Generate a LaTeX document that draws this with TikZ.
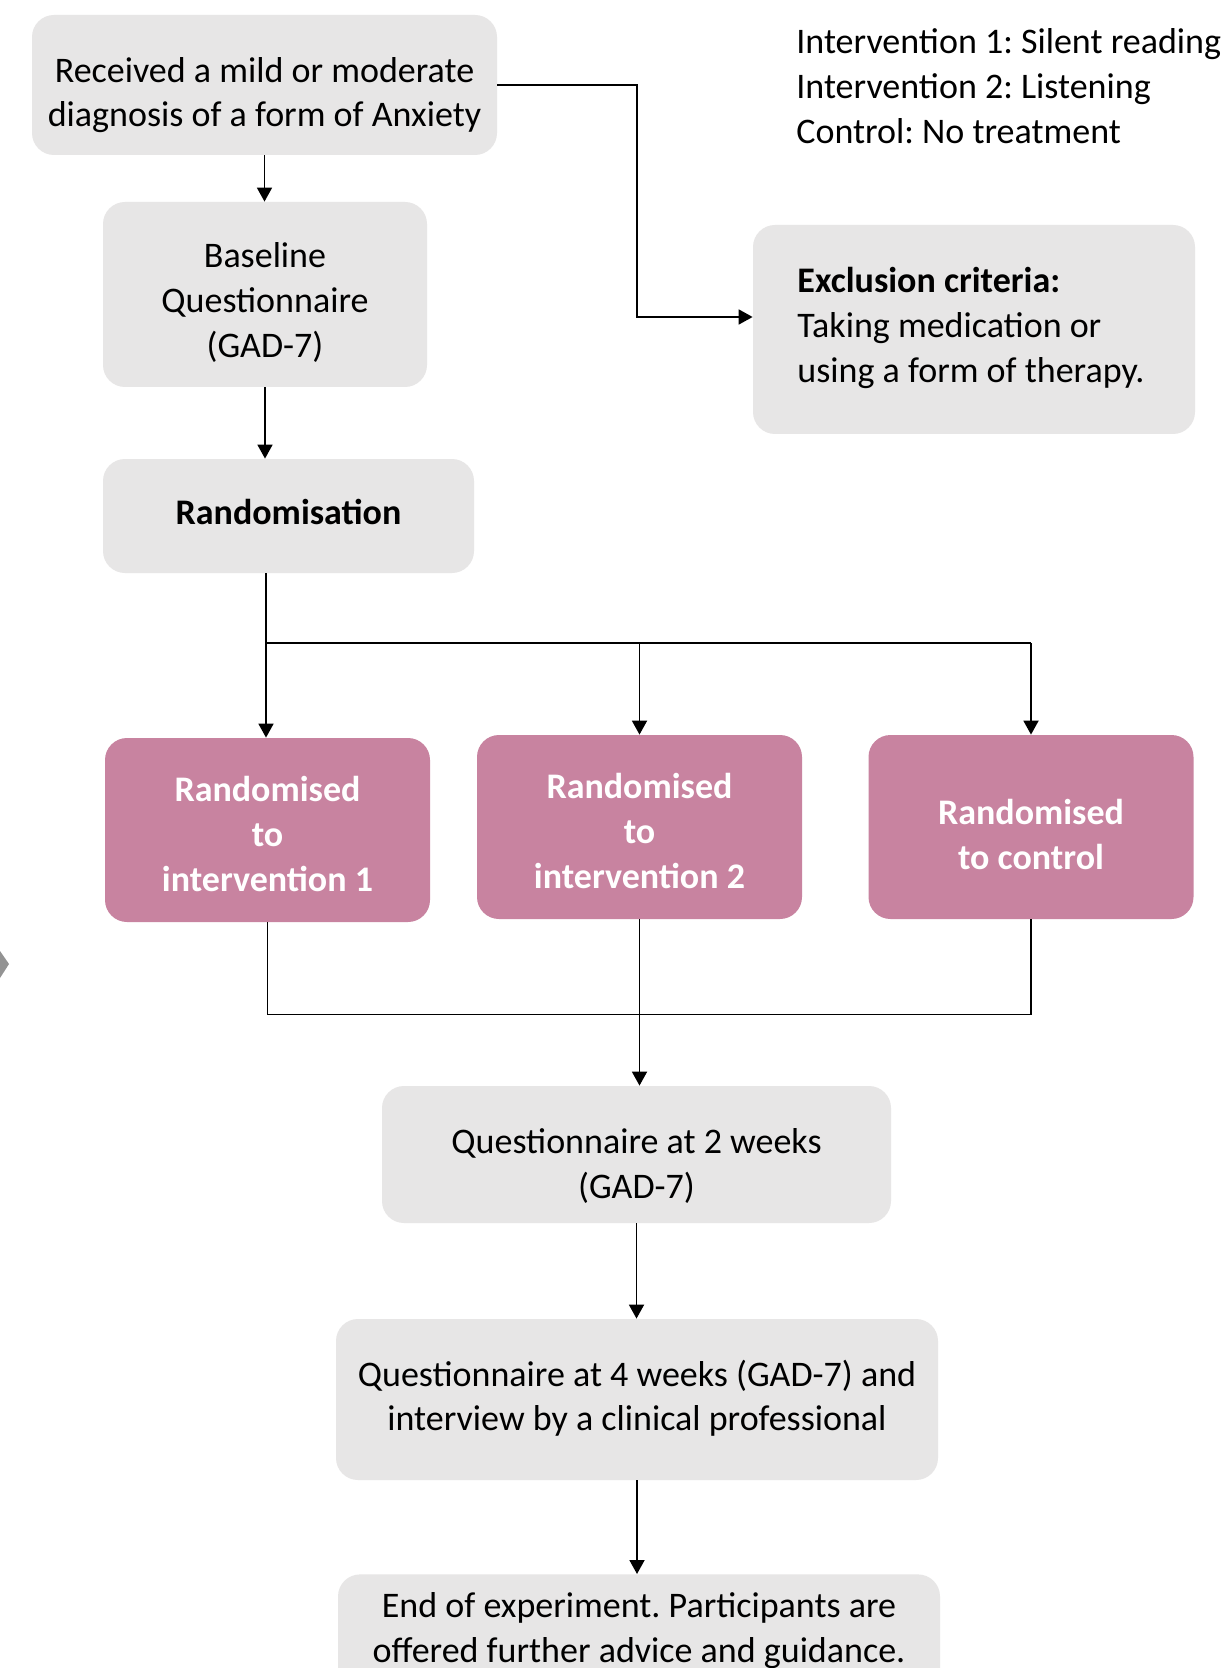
\documentclass[tikz,border=0pt]{standalone}
\usepackage{fontspec}
\setmainfont{Carlito}
\usetikzlibrary{arrows.meta,calc}
\definecolor{boxgray}{RGB}{231,230,230}
\definecolor{boxpink}{RGB}{200,131,160}
\def\PX{0.5pt}
\frenchspacing
% shift the visible text vertically without changing its measured size
\newcommand\boxtxt[3]{\raisebox{-#1}[\height][\depth]{\begin{tabular}{@{}#2@{}}#3\end{tabular}}}
\begin{document}
\begin{tikzpicture}[x=0.5pt,y=-0.5pt,
  base/.style={rectangle, rounded corners=11pt, inner sep=0pt, align=center,
               font=\fontsize{18}{22.4}\selectfont},
  gbox/.style={base, fill=boxgray, text=black},
  pbox/.style={base, fill=boxpink, text=white, font=\fontsize{18}{22.4}\selectfont\bfseries},
  arr/.style={draw=black, line width=0.9pt, -{Triangle[length=7pt,width=7.5pt]}},
  ln/.style={draw=black, line width=0.65pt}]
\path[use as bounding box] (0,0) rectangle (1225,1668);
\clip (0,0) rectangle (1225,1668);
\fill[white] (0,0) rectangle (1225,1668);

% legend
\node[base, anchor=west, align=left] (leg) at (796,86)
  {Intervention 1: Silent reading\\Intervention 2: Listening\\Control: No treatment};

% grey boxes
\node[gbox, minimum width=465*\PX, minimum height=140*\PX] (b1) at (264.5,85)
  {\boxtxt{5.3pt}{c}{Received a mild or moderate\\diagnosis of a form of Anxiety}};
\node[gbox, minimum width=324*\PX, minimum height=185*\PX] (b2) at (265,294.5)
  {\boxtxt{4.5pt}{c}{Baseline\\Questionnaire\\(GAD-7)}};
\node[gbox, minimum width=442*\PX, minimum height=209*\PX] (b3) at (974,329.5)
  {\boxtxt{-0.5pt}{@{\hspace{-3pt}}l}{\textbf{Exclusion criteria:}\\Taking medication or\\using a form of therapy.}};
\node[gbox, minimum width=371*\PX, minimum height=114*\PX,
      font=\fontsize{18}{22.4}\selectfont\bfseries] (b4) at (288.5,516)
  {\boxtxt{0pt}{c}{Randomisation}};

% pink boxes
\node[pbox, minimum width=325*\PX, minimum height=184*\PX] (p1) at (267.5,830)
  {\boxtxt{3.8pt}{c}{Randomised\\to\\intervention 1}};
\node[pbox, minimum width=325*\PX, minimum height=184*\PX] (p2) at (639.5,827)
  {\boxtxt{3.8pt}{c}{Randomised\\to\\intervention 2}};
\node[pbox, minimum width=325*\PX, minimum height=184*\PX] (p3) at (1031,827)
  {\boxtxt{5.4pt}{c}{Randomised\\to control}};

% lower boxes
\node[gbox, minimum width=509*\PX, minimum height=137*\PX] (q2) at (636.5,1154.5)
  {\boxtxt{6.3pt}{c}{Questionnaire at 2 weeks\\(GAD-7)}};
\node[gbox, minimum width=602*\PX, minimum height=161*\PX] (q4) at (637,1399.5)
  {\boxtxt{0pt}{c}{Questionnaire at 4 weeks (GAD-7) and\\interview by a clinical professional}};
\node[gbox, anchor=north, minimum width=602*\PX, inner ysep=18*\PX, text depth=50pt] (end) at (639,1574)
  {End of experiment. Participants are\\offered further advice and guidance.};

% helper coordinates
\coordinate (ex) at (637,317);
\coordinate (br) at (266,643);
\coordinate (mg) at (266,1014.5);

% connectors
\draw[arr] (b1.south) -- (b1.south |- b2.north);
\draw[arr] (b1.east) -| (ex) -- (ex -| b3.west);
\draw[arr] (b2.south) -- (b2.south |- b4.north);
\draw[arr] (b4.south -| br) -- (br |- p1.north);
\draw[ln] (br) -- (br -| p3.north);
\draw[arr] (br -| p2.north) -- (p2.north);
\draw[arr] (br -| p3.north) -- (p3.north);
\draw[ln] (p1.south) -- (p1.south |- mg) -- (mg -| p3.south) -- (p3.south);
\draw[arr] (p2.south) -- (p2.south |- q2.north);
\draw[arr] (q2.south) -- (q2.south |- q4.north);
\draw[arr] (q4.south) -- (q4.south |- end.north);

% stray mark at left edge
\fill[gray!85] (0,951) -- (9,964) -- (0,978) -- cycle;
\end{tikzpicture}
\end{document}
